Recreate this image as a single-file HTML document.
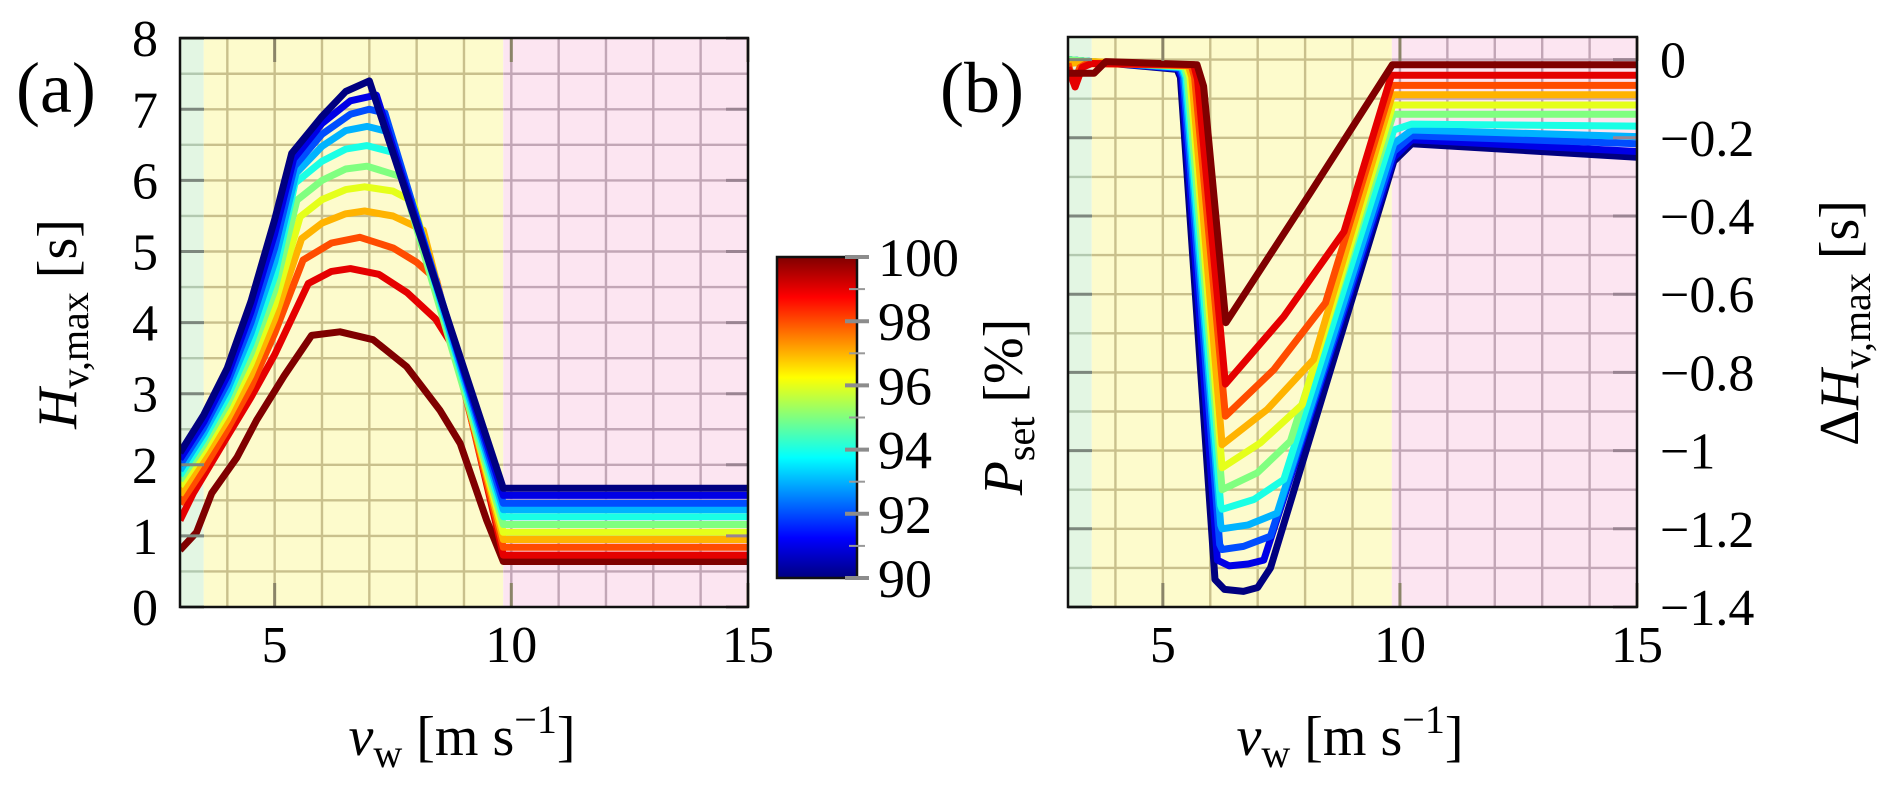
<!DOCTYPE html>
<html><head><meta charset="utf-8">
<style>
html,body{margin:0;padding:0;background:#fff;}
svg{display:block;}
svg text{font-family:"Liberation Serif","DejaVu Serif",serif;}
</style></head>
<body>
<svg id="fig" width="1892" height="788" viewBox="0 0 1892 788" xmlns="http://www.w3.org/2000/svg" font-family="Liberation Serif, serif">
<defs>
<clipPath id="clipA"><rect x="180" y="38" width="568" height="569"/></clipPath>
<clipPath id="clipB"><rect x="1068" y="37" width="569" height="570"/></clipPath>
<linearGradient id="jet" x1="0" y1="1" x2="0" y2="0">
<stop offset="0" stop-color="#000080"/><stop offset="0.125" stop-color="#0000ff"/>
<stop offset="0.375" stop-color="#00ffff"/><stop offset="0.625" stop-color="#ffff00"/>
<stop offset="0.875" stop-color="#ff0000"/><stop offset="1" stop-color="#800000"/>
</linearGradient>
</defs>
<g id="panelA"></g>
<g id="panelB"></g>
<g id="cbar"></g>
<g id="labels">
<text x="16" y="112" font-size="72">(a)</text>
<text x="940" y="112" font-size="72">(b)</text>
<text transform="translate(76,324) rotate(-90)" text-anchor="middle" font-size="56"><tspan font-style="italic">H</tspan><tspan font-size="40" dy="12">v,max</tspan><tspan dy="-12"> [s]</tspan></text>
<text x="462" y="755" text-anchor="middle" font-size="56"><tspan font-style="italic">v</tspan><tspan font-size="40" dy="12">w</tspan><tspan dy="-12"> [m s</tspan><tspan font-size="40" dy="-22">−1</tspan><tspan dy="22">]</tspan></text>
<text x="1350" y="755" text-anchor="middle" font-size="56"><tspan font-style="italic">v</tspan><tspan font-size="40" dy="12">w</tspan><tspan dy="-12"> [m s</tspan><tspan font-size="40" dy="-22">−1</tspan><tspan dy="22">]</tspan></text>
<text transform="translate(1022,407) rotate(-90)" text-anchor="middle" font-size="56"><tspan font-style="italic">P</tspan><tspan font-size="40" dy="12">set</tspan><tspan dy="-12"> [%]</tspan></text>
<text transform="translate(1858,323) rotate(-90)" text-anchor="middle" font-size="56">Δ<tspan font-style="italic">H</tspan><tspan font-size="40" dy="12">v,max</tspan><tspan dy="-12"> [s]</tspan></text>
</g>
</svg>
<script>
// ---- data ----
const levels = [90,91,92,93,94,95,96,97,98,99,100];
const hv90  = [[3,2.17],[3.5,2.7],[4,3.36],[4.5,4.3],[5,5.45],[5.36,6.38],[6.0,6.9],[6.5,7.25],[7.0,7.4],[9.83,1.67],[15,1.67]];
const hv91  = [[3,2.08],[3.5,2.6],[4,3.25],[4.5,4.15],[5,5.25],[5.4,6.3],[6.0,6.8],[6.6,7.12],[7.15,7.2],[9.83,1.57],[15,1.57]];
const hv92  = [[3,2.0],[3.5,2.52],[4,3.15],[4.5,4.0],[5,5.05],[5.42,6.2],[6.0,6.65],[6.6,6.93],[7.0,7.0],[7.33,6.95],[9.83,1.46],[15,1.46]];
const hv93  = [[3,1.92],[3.5,2.44],[4,3.05],[4.5,3.85],[5,4.85],[5.45,6.1],[6.0,6.48],[6.5,6.7],[6.95,6.76],[7.44,6.68],[9.83,1.37],[15,1.37]];
const hv94  = [[3,1.85],[3.5,2.36],[4,2.95],[4.5,3.7],[5,4.65],[5.43,5.96],[6.0,6.27],[6.5,6.44],[6.95,6.49],[7.58,6.38],[9.83,1.27],[15,1.27]];
const hv95  = [[3,1.78],[3.5,2.28],[4,2.85],[4.5,3.56],[5,4.45],[5.47,5.72],[6.0,6.0],[6.5,6.16],[6.95,6.2],[7.68,6.05],[9.83,1.16],[15,1.16]];
const hv96  = [[3,1.7],[3.5,2.2],[4,2.75],[4.5,3.42],[5,4.25],[5.54,5.49],[6.0,5.73],[6.5,5.87],[6.9,5.91],[7.5,5.85],[7.93,5.7],[9.83,1.05],[15,1.05]];
const hv97  = [[3,1.58],[3.5,2.1],[4,2.63],[4.5,3.26],[5,4.05],[5.57,5.18],[6.0,5.4],[6.5,5.53],[6.9,5.57],[7.5,5.5],[8.14,5.3],[9.83,0.95],[15,0.95]];
const hv98  = [[3,1.45],[3.5,1.95],[4,2.5],[4.5,3.1],[5,3.85],[5.6,4.88],[6.2,5.12],[6.8,5.2],[7.5,5.05],[8.0,4.85],[8.42,4.6],[9.83,0.84],[15,0.84]];
const hv99  = [[3,1.22],[3.28,1.6],[4,2.4],[4.5,2.95],[5,3.55],[5.71,4.55],[6.2,4.72],[6.6,4.76],[7.2,4.68],[7.8,4.42],[8.4,4.05],[8.81,3.62],[9.83,0.73],[15,0.73]];
const hv100 = [[3,0.8],[3.35,1.05],[3.67,1.6],[4.2,2.1],[4.62,2.63],[5.2,3.25],[5.78,3.82],[6.38,3.87],[7.08,3.76],[7.79,3.38],[8.49,2.77],[8.92,2.3],[9.48,1.22],[9.83,0.64],[15,0.64]];
const dh90  = [[3,0],[3.5,-0.005],[5.3,-0.025],[5.37,-0.045],[6.1,-1.33],[6.3,-1.355],[6.7,-1.36],[7.0,-1.35],[7.27,-1.3],[9.87,-0.26],[10.25,-0.215],[15,-0.25]];
const dh91  = [[3,0],[3.5,-0.005],[5.33,-0.023],[5.4,-0.045],[6.15,-1.28],[6.4,-1.295],[6.8,-1.29],[7.13,-1.28],[9.87,-0.25],[10.25,-0.205],[15,-0.235]];
const dh92  = [[3,0],[3.5,-0.005],[5.36,-0.022],[5.43,-0.045],[6.2,-1.24],[6.25,-1.253],[6.7,-1.245],[7.27,-1.219],[9.87,-0.235],[10.25,-0.195],[15,-0.215]];
const dh93  = [[3,0],[3.5,-0.005],[5.39,-0.02],[5.46,-0.045],[6.22,-1.19],[6.25,-1.2],[6.8,-1.19],[7.41,-1.16],[9.87,-0.215],[10.25,-0.18],[15,-0.197]];
const dh94  = [[3,0],[3.5,-0.005],[5.42,-0.02],[5.49,-0.045],[6.22,-1.14],[6.25,-1.15],[6.92,-1.125],[7.55,-1.074],[9.87,-0.18],[10.25,-0.165],[15,-0.17]];
const dh95  = [[3,0],[3.5,-0.005],[5.45,-0.018],[5.52,-0.045],[6.25,-1.1],[6.99,-1.057],[7.69,-0.976],[9.86,-0.14],[15,-0.14]];
const dh96  = [[3,-0.005],[3.5,-0.005],[5.5,-0.017],[5.57,-0.045],[6.25,-1.044],[7.06,-0.98],[7.94,-0.882],[9.85,-0.116],[15,-0.116]];
const dh97  = [[3,-0.01],[3.5,-0.005],[5.54,-0.016],[5.61,-0.045],[6.25,-0.985],[7.2,-0.895],[8.18,-0.767],[9.84,-0.09],[15,-0.09]];
const dh98  = [[3,-0.01],[3.12,-0.06],[3.25,-0.02],[3.4,-0.01],[5.6,-0.015],[5.67,-0.045],[6.32,-0.912],[7.34,-0.793],[8.43,-0.622],[9.83,-0.066],[15,-0.066]];
const dh99  = [[3,-0.02],[3.15,-0.07],[3.3,-0.02],[3.5,-0.01],[5.65,-0.013],[5.73,-0.05],[6.32,-0.83],[7.55,-0.657],[8.82,-0.44],[9.82,-0.04],[15,-0.04]];
const dh100 = [[3,-0.035],[3.55,-0.035],[3.8,-0.005],[5.72,-0.013],[5.86,-0.068],[6.33,-0.673],[8.11,-0.341],[9.84,-0.013],[15,-0.013]];
const hvCurves = [hv90,hv91,hv92,hv93,hv94,hv95,hv96,hv97,hv98,hv99,hv100];
const dhCurves = [dh90,dh91,dh92,dh93,dh94,dh95,dh96,dh97,dh98,dh99,dh100];
const xTicks = [5,10,15];
const yTicksA = [0,1,2,3,4,5,6,7,8];
const yTicksB = [0,-0.2,-0.4,-0.6,-0.8,-1,-1.2,-1.4];
const cbTicks = [90,92,94,96,98,100];
const regionBounds = [3,3.5,9.83,15];

// ---- axes ----
const NS="http://www.w3.org/2000/svg";
const xA = v => 180 + (v-3)*47.33;
const xB = v => 1068 + (v-3)*47.42;
const yA = h => 607 - h*71.1;
const yB = d => 59.6 - d*391;
const cbY = p => 578 - (p-90)*32.1;
function mk(tag, attrs, parent){const e=document.createElementNS(NS,tag);for(const k in attrs)e.setAttribute(k,attrs[k]);parent.appendChild(e);return e;}
function jet(p){const t=(p-90)/10;const c=x=>Math.round(255*Math.max(0,Math.min(1,1.5-Math.abs(4*t-x))));return `rgb(${c(3)},${c(2)},${c(1)})`;}
const bgCols=["#e3f6e3","#fdfbcc","#fce5f1"], gridCols=["#b3c9b0","#c9c08c","#c2a6b6"];

function panel(g, xf, yf, top, bottom, yGrid){
  for(let i=0;i<3;i++){
    const x0=xf(regionBounds[i]), x1=xf(regionBounds[i+1]);
    const r=mk('rect',{x:x0,y:top,width:x1-x0,height:bottom-top,fill:bgCols[i]},g);
    
    
    for(let v=3;v<=15;v++){ if(v>regionBounds[i]&&v<regionBounds[i+1]){
      const l=mk('line',{x1:xf(v),x2:xf(v),y1:top,y2:bottom,stroke:gridCols[i],'stroke-width':2.4},g);
      
      
    }}
    yGrid.forEach(yv=>{const y=yf(yv); if(y>top+1&&y<bottom-1){
      const l=mk('line',{x1:x0,x2:x1,y1:y,y2:y,stroke:gridCols[i],'stroke-width':2.4},g);
      
      
    }});
  }
}
function curve(g, pts, xf, yf, col, clip, name){
  const d=pts.map((p,i)=>(i?'L':'M')+xf(p[0]).toFixed(1)+','+yf(p[1]).toFixed(1)).join('');
  const path=mk('path',{d:d,fill:'none',stroke:col,'stroke-width':7,'stroke-linejoin':'round','clip-path':'url(#'+clip+')'},g);
  
  
}
function txt(g,attrs,s,name){
  const tx=mk('text',attrs,g);
  tx.setAttribute('font-family','Liberation Serif, serif');
  tx.textContent=s;
  
  
}

// Panel A
const gA=document.getElementById('panelA');
const gridA=[]; for(let k=0;k<=16;k++) gridA.push(k*0.5);
panel(gA,xA,yA,38,607,gridA);
for(let i=levels.length-1;i>=0;i--) curve(gA,hvCurves[i],xA,yA,jet(levels[i]),'clipA','hvmax-curve-'+levels[i]);
yTicksA.forEach(t=>{
  const y=yA(t);
  const l1=mk('line',{x1:180,x2:204,y1:y,y2:y,stroke:'#7d877d','stroke-width':3},gA);
  
  
  const l2=mk('line',{x1:726,x2:748,y1:y,y2:y,stroke:'#9a8492','stroke-width':3},gA);
  
  
  txt(gA,{x:158,y:y+18,'text-anchor':'end','font-size':52},String(t),'y-tick-label-a');
});
xTicks.forEach(t=>{
  const x=xA(t);
  const a=mk('line',{x1:x,x2:x,y1:38,y2:62,stroke:'#8a8468','stroke-width':3},gA);
  
  
  const b=mk('line',{x1:x,x2:x,y1:583,y2:607,stroke:'#8a8468','stroke-width':3},gA);
  
  
  txt(gA,{x:x,y:662,'text-anchor':'middle','font-size':52},String(t),'x-tick-label-a');
});
const fA=mk('rect',{x:180,y:38,width:568,height:569,fill:'none',stroke:'#111','stroke-width':2.5},gA);



// Panel B
const gB=document.getElementById('panelB');
const gridB=[]; for(let k=0;k<=14;k++) gridB.push(-k*0.1);
panel(gB,xB,yB,37,607,gridB);
for(let i=0;i<levels.length;i++) curve(gB,dhCurves[i],xB,yB,jet(levels[i]),'clipB','delta-h-curve-'+levels[i]);
yTicksB.forEach(t=>{
  const y=yB(t);
  const l1=mk('line',{x1:1068,x2:1092,y1:y,y2:y,stroke:'#7d877d','stroke-width':3},gB);
  
  
  const l2=mk('line',{x1:1613,x2:1637,y1:y,y2:y,stroke:'#9a8492','stroke-width':3},gB);
  
  
  txt(gB,{x:1660,y:y+18,'font-size':52},(t===0?'0':'−'+String(Math.abs(t))),'y-tick-label-b');
});
xTicks.forEach(t=>{
  const x=xB(t);
  const a=mk('line',{x1:x,x2:x,y1:37,y2:61,stroke:'#8a8468','stroke-width':3},gB);
  
  
  const b=mk('line',{x1:x,x2:x,y1:583,y2:607,stroke:'#8a8468','stroke-width':3},gB);
  
  
  txt(gB,{x:x,y:662,'text-anchor':'middle','font-size':52},String(t),'x-tick-label-b');
});
const fB=mk('rect',{x:1068,y:37,width:569,height:570,fill:'none',stroke:'#111','stroke-width':2.5},gB);



// Colorbar
const gC=document.getElementById('cbar');
const cr=mk('rect',{x:777,y:257,width:80,height:321,fill:'url(#jet)',stroke:'#111','stroke-width':2.5},gC);


for(let p=91;p<100;p+=2){
  const y=cbY(p);
  const l=mk('line',{x1:849,x2:865,y1:y,y2:y,stroke:'#999','stroke-width':2},gC);
  
  
}
cbTicks.forEach(p=>{
  const y=cbY(p);
  const l=mk('line',{x1:845,x2:869,y1:y,y2:y,stroke:'#8c8c8c','stroke-width':4},gC);
  
  
  txt(gC,{x:878,y:y+19,'font-size':54},String(p),'colorbar-tick-label');
});
</script>
</body></html>
